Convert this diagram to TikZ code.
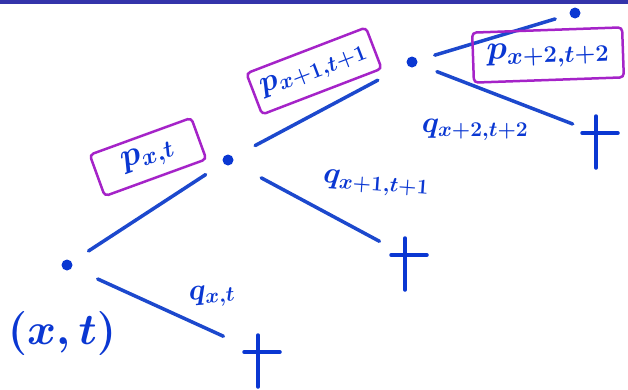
\RequirePackage{fix-cm}
\documentclass[tikz,border=0pt]{standalone}
\usetikzlibrary{calc}
\definecolor{inkblue}{RGB}{28,72,205}
\definecolor{textblue}{RGB}{10,55,210}
\definecolor{inkpurple}{RGB}{165,35,200}
\definecolor{barblue}{RGB}{52,52,170}

\begin{document}
\begin{tikzpicture}[
    x=1pt, y=-1pt,
    dot/.style={circle, fill=textblue, inner sep=0pt, minimum size=11pt},
    branch/.style={draw=inkblue, line width=3.5pt, line cap=round},
    crossline/.style={draw=textblue, line width=3.5pt, line cap=round},
    lbl/.style={text=textblue, inner sep=0pt, font=\fontsize{30}{34}\selectfont\boldmath},
    hlbox/.style={draw=inkpurple, line width=2.5pt, rounded corners=4pt,
        font=\fontsize{34}{38}\selectfont\boldmath}
  ]
  \useasboundingbox (0,0) rectangle (628,389);
  \fill[barblue] (0,0) rectangle (628,4);

  % states of the walk
  \node[dot] (n1) at (67,265) {};
  \node[dot] (n2) at (228,160) {};
  \node[dot] (n3) at (412,62) {};
  \node[dot] (n4) at (575,13) {};

  % absorbed ends
  \coordinate (c1) at (258,352);
  \coordinate (c2) at (405,255);
  \coordinate (c3) at (596,133);

  % branches
  \draw[branch, shorten <=20pt, shorten >=21pt] (n1) -- (n2);
  \draw[branch, shorten <=28pt, shorten >=38pt] (n1) -- (c1);
  \draw[branch, shorten <=25pt, shorten >=33pt] (n2) -- (n3);
  \draw[branch, shorten <=32pt, shorten >=29pt] (n2) -- (c2);
  \draw[branch, shorten <=18pt, shorten >=15pt] (n3) -- (n4);
  \draw[branch, shorten <=21pt, shorten >=25pt] (n3) -- (c3);

  \foreach \c in {c1,c2,c3}
    \draw[crossline] ($(\c)+(-14,0)$) -- ($(\c)+(22,0)$)
                     ($(\c)+(0,-17)$) -- ($(\c)+(0,35)$);

  % labels
  \node[lbl, font=\fontsize{44}{48}\selectfont\boldmath] (start) at (62,333) {$(x,t)$};
  \node[lbl, hlbox, rotate=20, minimum width=108pt, minimum height=44pt]
    (p1) at (148,157) {$p_{x,t}$};
  \node[lbl, hlbox, rotate=21, minimum width=128pt, minimum height=44pt,
    font=\fontsize{31}{35}\selectfont\boldmath]
    (p2) at (314,71) {$p_{x+1,t+1}$};
  \node[lbl, hlbox, rotate=2, minimum width=150pt, minimum height=50pt]
    (p3) at (548,55) {$p_{x+2,t+2}$};
  \node[lbl, rotate=5] (q1) at (212,296) {$q_{x,t}$};
  \node[lbl, rotate=-4] (q2) at (376,184) {$q_{x+1,t+1}$};
  \node[lbl] (q3) at (475,130) {$q_{x+2,t+2}$};
\end{tikzpicture}
\end{document}
